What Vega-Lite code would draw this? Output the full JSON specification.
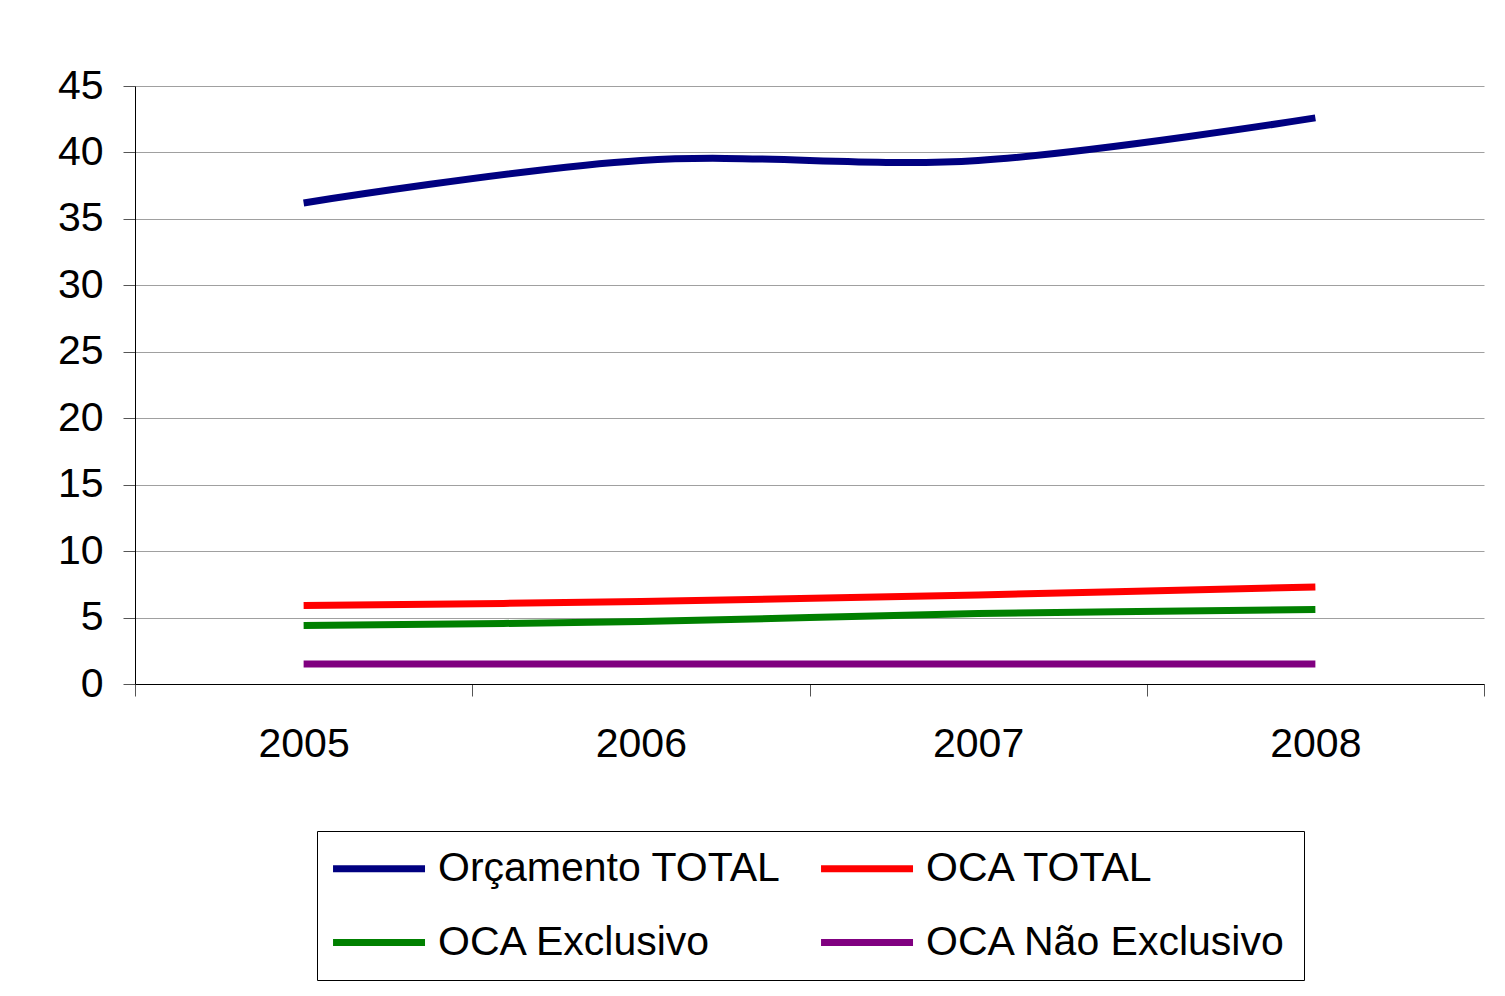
{
  "$schema": "https://vega.github.io/schema/vega-lite/v6.json",
  "width": 1349,
  "height": 598,
  "autosize": {"type": "none"},
  "padding": {"left": 135, "top": 86, "right": 21, "bottom": 312},
  "background": "white",
  "config": {"view": {"stroke": null}, "font": "Liberation Sans"},
  "data": {
    "values": [
      {"ano": "2005", "serie": "Orçamento TOTAL", "valor": 36.2},
      {"ano": "2006", "serie": "Orçamento TOTAL", "valor": 39.4},
      {"ano": "2007", "serie": "Orçamento TOTAL", "valor": 39.4},
      {"ano": "2008", "serie": "Orçamento TOTAL", "valor": 42.6},
      {"ano": "2005", "serie": "OCA TOTAL", "valor": 5.9},
      {"ano": "2006", "serie": "OCA TOTAL", "valor": 6.2},
      {"ano": "2007", "serie": "OCA TOTAL", "valor": 6.7},
      {"ano": "2008", "serie": "OCA TOTAL", "valor": 7.3},
      {"ano": "2005", "serie": "OCA Exclusivo", "valor": 4.4},
      {"ano": "2006", "serie": "OCA Exclusivo", "valor": 4.7},
      {"ano": "2007", "serie": "OCA Exclusivo", "valor": 5.3},
      {"ano": "2008", "serie": "OCA Exclusivo", "valor": 5.6},
      {"ano": "2005", "serie": "OCA Não Exclusivo", "valor": 1.5},
      {"ano": "2006", "serie": "OCA Não Exclusivo", "valor": 1.5},
      {"ano": "2007", "serie": "OCA Não Exclusivo", "valor": 1.5},
      {"ano": "2008", "serie": "OCA Não Exclusivo", "valor": 1.5}
    ]
  },
  "mark": {"type": "line", "interpolate": "cardinal", "strokeWidth": 7},
  "encoding": {
    "x": {
      "field": "ano",
      "type": "ordinal",
      "scale": {"type": "band", "paddingInner": 0, "paddingOuter": 0},
      "axis": {
        "title": null,
        "labelAngle": 0,
        "tickBand": "extent",
        "grid": false,
        "domainColor": "black",
        "tickColor": "#555555",
        "tickSize": 12,
        "labelFontSize": 41,
        "labelPadding": 28,
        "labelColor": "black"
      }
    },
    "y": {
      "field": "valor",
      "type": "quantitative",
      "scale": {"domain": [0, 45]},
      "axis": {
        "title": null,
        "values": [0, 5, 10, 15, 20, 25, 30, 35, 40, 45],
        "gridColor": "#a0a0a0",
        "domainColor": "black",
        "tickColor": "#555555",
        "tickSize": 12,
        "labelFontSize": 41,
        "labelPadding": 20,
        "labelColor": "black"
      }
    },
    "color": {
      "field": "serie",
      "type": "nominal",
      "sort": ["Orçamento TOTAL", "OCA Exclusivo", "OCA TOTAL", "OCA Não Exclusivo"],
      "scale": {
        "domain": ["Orçamento TOTAL", "OCA Exclusivo", "OCA TOTAL", "OCA Não Exclusivo"],
        "range": ["#000080", "#008000", "#FF0000", "#800080"]
      },
      "legend": {
        "title": null,
        "orient": "none",
        "legendX": 182,
        "legendY": 745,
        "columns": 2,
        "symbolType": "M-1.4,0H4.6",
        "symbolSize": 940,
        "symbolStrokeWidth": 7,
        "labelFontSize": 41,
        "labelOffset": 63,
        "labelLimit": 600,
        "labelColor": "black",
        "strokeColor": "black",
        "padding": 17,
        "rowPadding": 32,
        "columnPadding": 26
      }
    }
  }
}
